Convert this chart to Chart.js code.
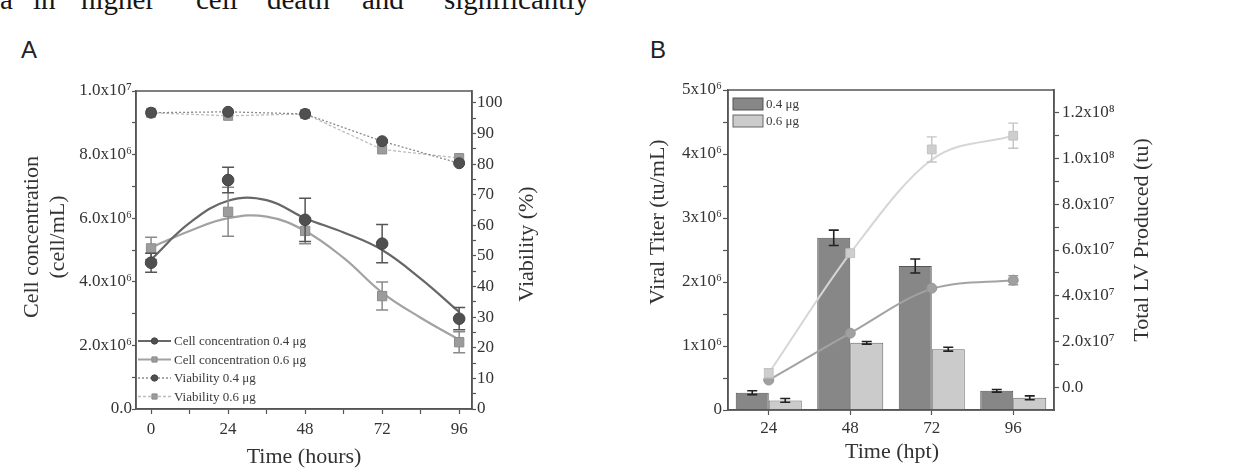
<!DOCTYPE html>
<html><head><meta charset="utf-8">
<script src="https://cdn.jsdelivr.net/npm/chart.js@4.4.0/dist/chart.umd.min.js"></script>
<style>
html,body{margin:0;padding:0;background:#fff;width:1233px;height:474px;overflow:hidden;}
#wrap{position:relative;width:1233px;height:474px;}
canvas{position:absolute;top:0;}
.word{position:absolute;top:-15px;font-family:'Liberation Serif',serif;font-size:29px;line-height:29px;color:#151515;white-space:nowrap;}
.panel{position:absolute;top:38px;font-family:'Liberation Sans',Arial,sans-serif;font-size:24px;line-height:24px;color:#222;}
</style></head>
<body><div id="wrap">
<span class="word" style="left:0px">a</span>
<span class="word" style="left:33px">in</span>
<span class="word" style="left:81px">higher</span>
<span class="word" style="left:196px">cell</span>
<span class="word" style="left:267px">death</span>
<span class="word" style="left:362px">and</span>
<span class="word" style="left:444px">significantly</span>
<div class="panel" style="left:21px">A</div>
<div class="panel" style="left:650px">B</div>
<canvas id="chartA" width="616" height="474" style="left:0px"></canvas>
<canvas id="chartB" width="617" height="474" style="left:616px"></canvas>
</div>
<script>
// ---------------- Panel A data ----------------
const hoursA = [0, 24, 48, 72, 96];
const cellConc04 = [4.6e6, 7.2e6, 5.95e6, 5.2e6, 2.84e6];
const cellConc04Err = [0.3e6, 0.4e6, 0.68e6, 0.6e6, 0.35e6];
const cellConc06 = [5.05e6, 6.2e6, 5.6e6, 3.55e6, 2.1e6];
const cellConc06Err = [0.35e6, 0.77e6, 0.4e6, 0.44e6, 0.33e6];
const viability04 = [96.8, 97.1, 96.4, 87.5, 80.3];
const viability06 = [96.8, 95.8, 96.4, 84.8, 82.0];
const fitHoursA = [0, 12, 24, 36, 48, 60, 72, 84, 96];
const cellFit04 = [4.7e6, 5.85e6, 6.55e6, 6.57e6, 6.0e6, 5.55e6, 5.0e6, 4.1e6, 3.05e6];
const cellFit06 = [5.08e6, 5.6e6, 6.0e6, 6.05e6, 5.6e6, 4.75e6, 3.66e6, 2.87e6, 2.18e6];
const xTickValuesA = [0, 12, 24, 36, 48, 60, 72, 84, 96];
const xTickLabelsA = ['0', '', '24', '', '48', '', '72', '', '96'];
const cellTickValues = [0, 1e6, 2e6, 3e6, 4e6, 5e6, 6e6, 7e6, 8e6, 9e6, 1e7];
const cellTickLabels = ['0.0', '', '2.0x10⁶', '', '4.0x10⁶', '', '6.0x10⁶', '', '8.0x10⁶', '', '1.0x10⁷'];
const viaTickValues = [0, 5, 10, 15, 20, 25, 30, 35, 40, 45, 50, 55, 60, 65, 70, 75, 80, 85, 90, 95, 100];
const viaTickLabels = ['0', '', '10', '', '20', '', '30', '', '40', '', '50', '', '60', '', '70', '', '80', '', '90', '', '100'];

// ---------------- Panel B data ----------------
const timesB = ['24', '48', '72', '96'];
const titer04 = [0.27e6, 2.69e6, 2.25e6, 0.30e6];
const titer04Err = [0.03e6, 0.12e6, 0.11e6, 0.02e6];
const titer06 = [0.15e6, 1.05e6, 0.95e6, 0.19e6];
const titer06Err = [0.03e6, 0.02e6, 0.03e6, 0.03e6];
const totalLV04 = [3.1e6, 2.36e7, 4.33e7, 4.68e7];
const totalLV04Err = [0, 0, 0, 0.2e7];
const totalLV06 = [6.1e6, 5.86e7, 1.04e8, 1.10e8];
const totalLV06Err = [0.2e7, 0, 0.55e7, 0.55e7];
const fitLV04 = [3.1e6, 2.36e7, 4.3e7, 4.68e7];
const fitLV06 = [6.1e6, 5.86e7, 9.95e7, 1.10e8];
const titerTickValues = [0, 0.5e6, 1e6, 1.5e6, 2e6, 2.5e6, 3e6, 3.5e6, 4e6, 4.5e6, 5e6];
const titerTickLabels = ['0', '', '1x10⁶', '', '2x10⁶', '', '3x10⁶', '', '4x10⁶', '', '5x10⁶'];
const lvTickValues = [0, 1e7, 2e7, 3e7, 4e7, 5e7, 6e7, 7e7, 8e7, 9e7, 1e8, 1.1e8, 1.2e8];
const lvTickLabels = ['0.0', '', '2.0x10⁷', '', '4.0x10⁷', '', '6.0x10⁷', '', '8.0x10⁷', '', '1.0x10⁸', '', '1.2x10⁸'];

// ---------------- helpers / plugins ----------------
const SERIF = "'Liberation Serif', 'Times New Roman', serif";
const AXIS = '#555';
const TXT = '#333';

function pts(xs, ys) { return xs.map((x, i) => ({x: x, y: ys[i]})); }
function fixedTicks(values) { return (scale) => { scale.ticks = values.map(v => ({value: v})); }; }

function drawErrors(chart, args) {
  const ds = chart.data.datasets[args.index];
  const meta = args.meta;
  const yScale = chart.scales[meta.yAxisID];
  const ctx = chart.ctx;
  ctx.save();
  ctx.strokeStyle = ds.errorColor;
  ctx.lineWidth = ds.errorWidth || 1.5;
  meta.data.forEach((el, i) => {
    const err = ds.errors[i];
    if (!err) return;
    const raw = ds.data[i];
    const v = (typeof raw === 'object') ? raw.y : raw;
    const x = el.x;
    const y1 = yScale.getPixelForValue(v + err);
    const y2 = yScale.getPixelForValue(v - err);
    const c = ds.errorCap || 6;
    ctx.beginPath();
    ctx.moveTo(x, y1); ctx.lineTo(x, y2);
    ctx.moveTo(x - c, y1); ctx.lineTo(x + c, y1);
    ctx.moveTo(x - c, y2); ctx.lineTo(x + c, y2);
    ctx.stroke();
  });
  ctx.restore();
}
const errorBarPlugin = {
  id: 'errorBars',
  beforeDatasetDraw(chart, args) {
    const ds = chart.data.datasets[args.index];
    if (ds.errors && !ds.errorOnTop) drawErrors(chart, args);
  },
  afterDatasetDraw(chart, args) {
    const ds = chart.data.datasets[args.index];
    if (ds.errors && ds.errorOnTop) drawErrors(chart, args);
  }
};

function drawMarker(ctx, ds, x, y) {
  ctx.save();
  ctx.fillStyle = ds.pointBackgroundColor;
  ctx.strokeStyle = ds.pointBorderColor;
  ctx.lineWidth = 1;
  const r = ds.legendPointRadius;
  ctx.beginPath();
  if (ds.pointStyle === 'rect') ctx.rect(x - r, y - r, 2 * r, 2 * r);
  else ctx.arc(x, y, r, 0, Math.PI * 2);
  ctx.fill(); ctx.stroke();
  ctx.restore();
}

const decorPlugin = {
  id: 'decor',
  afterDraw(chart, args, opts) {
    const {ctx, chartArea: a} = chart;
    ctx.save();
    ctx.strokeStyle = AXIS; ctx.lineWidth = 1.5;
    ctx.strokeRect(a.left, a.top, a.right - a.left, a.bottom - a.top);
    (opts.titles || []).forEach(t => {
      ctx.save();
      ctx.translate(t.x, t.y);
      ctx.rotate(t.rot || 0);
      ctx.font = (t.size || 22) + 'px ' + SERIF;
      ctx.fillStyle = TXT;
      ctx.textAlign = 'center';
      ctx.textBaseline = 'middle';
      ctx.fillText(t.text, 0, 0);
      ctx.restore();
    });
    const lg = opts.legend;
    if (lg) {
      ctx.font = lg.size + 'px ' + SERIF;
      ctx.textBaseline = 'middle';
      ctx.textAlign = 'left';
      lg.items.forEach((it, k) => {
        const ds = chart.data.datasets[it.ds];
        const y = lg.y + k * lg.row;
        const x0 = lg.x;
        if (lg.kind === 'line') {
          const ls = chart.data.datasets[it.lineDs];
          ctx.save();
          ctx.strokeStyle = ls.borderColor;
          ctx.lineWidth = ls.borderWidth;
          ctx.setLineDash(ls.borderDash || []);
          ctx.beginPath(); ctx.moveTo(x0, y); ctx.lineTo(x0 + lg.symW, y); ctx.stroke();
          ctx.restore();
          drawMarker(ctx, ds, x0 + lg.symW / 2, y);
        } else {
          ctx.save();
          ctx.fillStyle = ds.backgroundColor;
          ctx.strokeStyle = ds.borderColor;
          ctx.lineWidth = 1;
          ctx.fillRect(x0, y - lg.boxH / 2, lg.symW, lg.boxH);
          ctx.strokeRect(x0, y - lg.boxH / 2, lg.symW, lg.boxH);
          ctx.restore();
        }
        ctx.fillStyle = '#3a3a3a';
        ctx.fillText(ds.label, x0 + lg.symW + 3, y + 1);
      });
    }
    ctx.restore();
  }
};

Chart.register(errorBarPlugin, decorPlugin);

function axisCommon(extra) {
  return Object.assign({
    grid: {drawOnChartArea: false, drawTicks: true, tickLength: 5, tickColor: AXIS, tickWidth: 1.2},
    border: {display: true, color: AXIS, width: 1.5},
  }, extra);
}
const tickFont = {family: SERIF, size: 17};

// ---------------- Chart A ----------------
new Chart(document.getElementById('chartA'), {
  type: 'scatter',
  data: {
    datasets: [
      {label: 'fit 0.4', type: 'line', data: pts(fitHoursA, cellFit04), yAxisID: 'y', borderColor: '#676767', borderWidth: 2.2, pointRadius: 0, tension: 0.4, fill: false, order: 3},
      {label: 'fit 0.6', type: 'line', data: pts(fitHoursA, cellFit06), yAxisID: 'y', borderColor: '#a2a2a2', borderWidth: 2.2, pointRadius: 0, tension: 0.4, fill: false, order: 3},
      {label: 'Viability 0.4 μg', type: 'line', data: pts(hoursA, viability04), yAxisID: 'y1', borderColor: '#8a8a8a', borderWidth: 1.3, borderDash: [2, 2], tension: 0, fill: false,
        pointStyle: 'circle', pointRadius: 5.5, pointBackgroundColor: '#505050', pointBorderColor: '#444', pointBorderWidth: 1, legendPointRadius: 3.2, order: 2},
      {label: 'Viability 0.6 μg', type: 'line', data: pts(hoursA, viability06), yAxisID: 'y1', borderColor: '#bdbdbd', borderWidth: 1.3, borderDash: [3, 2], tension: 0, fill: false,
        pointStyle: 'rect', pointRadius: 6.4, pointBackgroundColor: '#9c9c9c', pointBorderColor: '#8c8c8c', pointBorderWidth: 1, legendPointRadius: 2.6, order: 2.5},
      {label: 'Cell concentration 0.4 μg', data: pts(hoursA, cellConc04), yAxisID: 'y', showLine: false,
        pointStyle: 'circle', pointRadius: 5.8, pointBackgroundColor: '#505050', pointBorderColor: '#444', pointBorderWidth: 1, legendPointRadius: 3.2,
        errors: cellConc04Err, errorColor: '#555', errorCap: 6, errorWidth: 1.5, order: 0},
      {label: 'Cell concentration 0.6 μg', data: pts(hoursA, cellConc06), yAxisID: 'y', showLine: false,
        pointStyle: 'rect', pointRadius: 6.6, pointBackgroundColor: '#9c9c9c', pointBorderColor: '#8c8c8c', pointBorderWidth: 1, legendPointRadius: 2.6,
        errors: cellConc06Err, errorColor: '#8a8a8a', errorCap: 6, errorWidth: 1.5, order: 1}
    ]
  },
  options: {
    responsive: false, animation: false, devicePixelRatio: 1,
    layout: {padding: {top: 91, left: 0, right: 0, bottom: 0}},
    plugins: {
      legend: {display: false}, tooltip: {enabled: false},
      decor: {
        titles: [
          {text: 'Cell concentration', x: 32, y: 237, rot: -Math.PI / 2},
          {text: '(cell/mL)', x: 58, y: 237, rot: -Math.PI / 2},
          {text: 'Viability (%)', x: 527, y: 244, rot: -Math.PI / 2},
          {text: 'Time (hours)', x: 304, y: 457}
        ],
        legend: {kind: 'line', x: 138, y: 341, row: 18.5, symW: 33, size: 13,
          items: [{ds: 4, lineDs: 0}, {ds: 5, lineDs: 1}, {ds: 2, lineDs: 2}, {ds: 3, lineDs: 3}]}
      }
    },
    scales: {
      x: axisCommon({type: 'linear', min: -4.7, max: 100,
        afterBuildTicks: fixedTicks(xTickValuesA),
        afterFit: s => { s.height = 65; },
        ticks: {autoSkip: false, maxRotation: 0, font: tickFont, color: TXT, padding: 5, callback: (v, i) => xTickLabelsA[i]}}),
      y: axisCommon({type: 'linear', position: 'left', min: 0, max: 1e7,
        afterBuildTicks: fixedTicks(cellTickValues),
        afterFit: s => { s.width = 136; },
        grid: {drawOnChartArea: false, drawTicks: true, tickLength: 4, tickColor: AXIS, tickWidth: 1.2},
        ticks: {autoSkip: false, font: tickFont, color: TXT, padding: 0, callback: (v, i) => cellTickLabels[i]}}),
      y1: axisCommon({type: 'linear', position: 'right', min: 0, max: 103.9,
        afterBuildTicks: fixedTicks(viaTickValues),
        afterFit: s => { s.width = 144; },
        grid: {drawOnChartArea: false, drawTicks: true, tickLength: 4, tickColor: AXIS, tickWidth: 1.2},
        ticks: {autoSkip: false, font: tickFont, color: TXT, padding: 1, callback: (v, i) => viaTickLabels[i]}})
    }
  }
});

// ---------------- Chart B ----------------
new Chart(document.getElementById('chartB'), {
  type: 'bar',
  data: {
    labels: timesB,
    datasets: [
      {label: '0.4 μg', data: titer04, yAxisID: 'y', backgroundColor: '#878787', borderColor: '#555', borderWidth: 1,
        errors: titer04Err, errorColor: '#222', errorCap: 5, errorWidth: 1.6, errorOnTop: true, order: 3},
      {label: '0.6 μg', data: titer06, yAxisID: 'y', backgroundColor: '#cbcbcb', borderColor: '#666', borderWidth: 1,
        errors: titer06Err, errorColor: '#222', errorCap: 5, errorWidth: 1.6, errorOnTop: true, order: 3},
      {label: 'Total LV 0.4 μg fit', type: 'line', data: fitLV04, yAxisID: 'y1', borderColor: '#a3a3a3', borderWidth: 2, pointRadius: 0, tension: 0.4, cubicInterpolationMode: 'monotone', fill: false, order: 2},
      {label: 'Total LV 0.6 μg fit', type: 'line', data: fitLV06, yAxisID: 'y1', borderColor: '#d6d6d6', borderWidth: 2, pointRadius: 0, tension: 0.4, cubicInterpolationMode: 'monotone', fill: false, order: 2},
      {label: 'Total LV 0.4 μg', type: 'line', data: totalLV04, yAxisID: 'y1', showLine: false, pointStyle: 'circle', pointRadius: 5, pointBackgroundColor: '#a0a0a0', pointBorderColor: '#969696', pointBorderWidth: 1,
        errors: totalLV04Err, errorColor: '#9a9a9a', errorCap: 5, errorWidth: 1.4, order: 1},
      {label: 'Total LV 0.6 μg', type: 'line', data: totalLV06, yAxisID: 'y1', showLine: false, pointStyle: 'rect', pointRadius: 6.2, pointBackgroundColor: '#cecece', pointBorderColor: '#c2c2c2', pointBorderWidth: 1,
        errors: totalLV06Err, errorColor: '#c4c4c4', errorCap: 5, errorWidth: 1.4, order: 0}
    ]
  },
  options: {
    responsive: false, animation: false, devicePixelRatio: 1,
    layout: {padding: {top: 90, left: 0, right: 0, bottom: 0}},
    datasets: {bar: {barPercentage: 1, categoryPercentage: 0.81}},
    plugins: {
      legend: {display: false}, tooltip: {enabled: false},
      decor: {
        titles: [
          {text: 'Viral Titer (tu/mL)', x: 42, y: 222, rot: -Math.PI / 2},
          {text: 'Total LV Produced (tu)', x: 526, y: 240, rot: -Math.PI / 2},
          {text: 'Time (hpt)', x: 276, y: 452}
        ],
        legend: {kind: 'box', x: 117, y: 104, row: 17, symW: 30, boxH: 12, size: 13,
          items: [{ds: 0}, {ds: 1}]}
      }
    },
    scales: {
      x: axisCommon({type: 'category', offset: true,
        grid: {offset: false, drawOnChartArea: false, drawTicks: true, tickLength: 5, tickColor: AXIS, tickWidth: 1.2},
        afterFit: s => { s.height = 64; },
        ticks: {autoSkip: false, maxRotation: 0, font: tickFont, color: TXT, padding: 3}}),
      y: axisCommon({type: 'linear', position: 'left', min: 0, max: 5e6,
        afterBuildTicks: fixedTicks(titerTickValues),
        afterFit: s => { s.width = 112; },
        ticks: {autoSkip: false, font: tickFont, color: TXT, padding: 1, callback: (v, i) => titerTickLabels[i]}}),
      y1: axisCommon({type: 'linear', position: 'right', min: -1e7, max: 1.3e8,
        afterBuildTicks: fixedTicks(lvTickValues),
        afterFit: s => { s.width = 179; },
        ticks: {autoSkip: false, font: tickFont, color: TXT, padding: 3, callback: (v, i) => lvTickLabels[i]}})
    }
  }
});
</script>
</body></html>
